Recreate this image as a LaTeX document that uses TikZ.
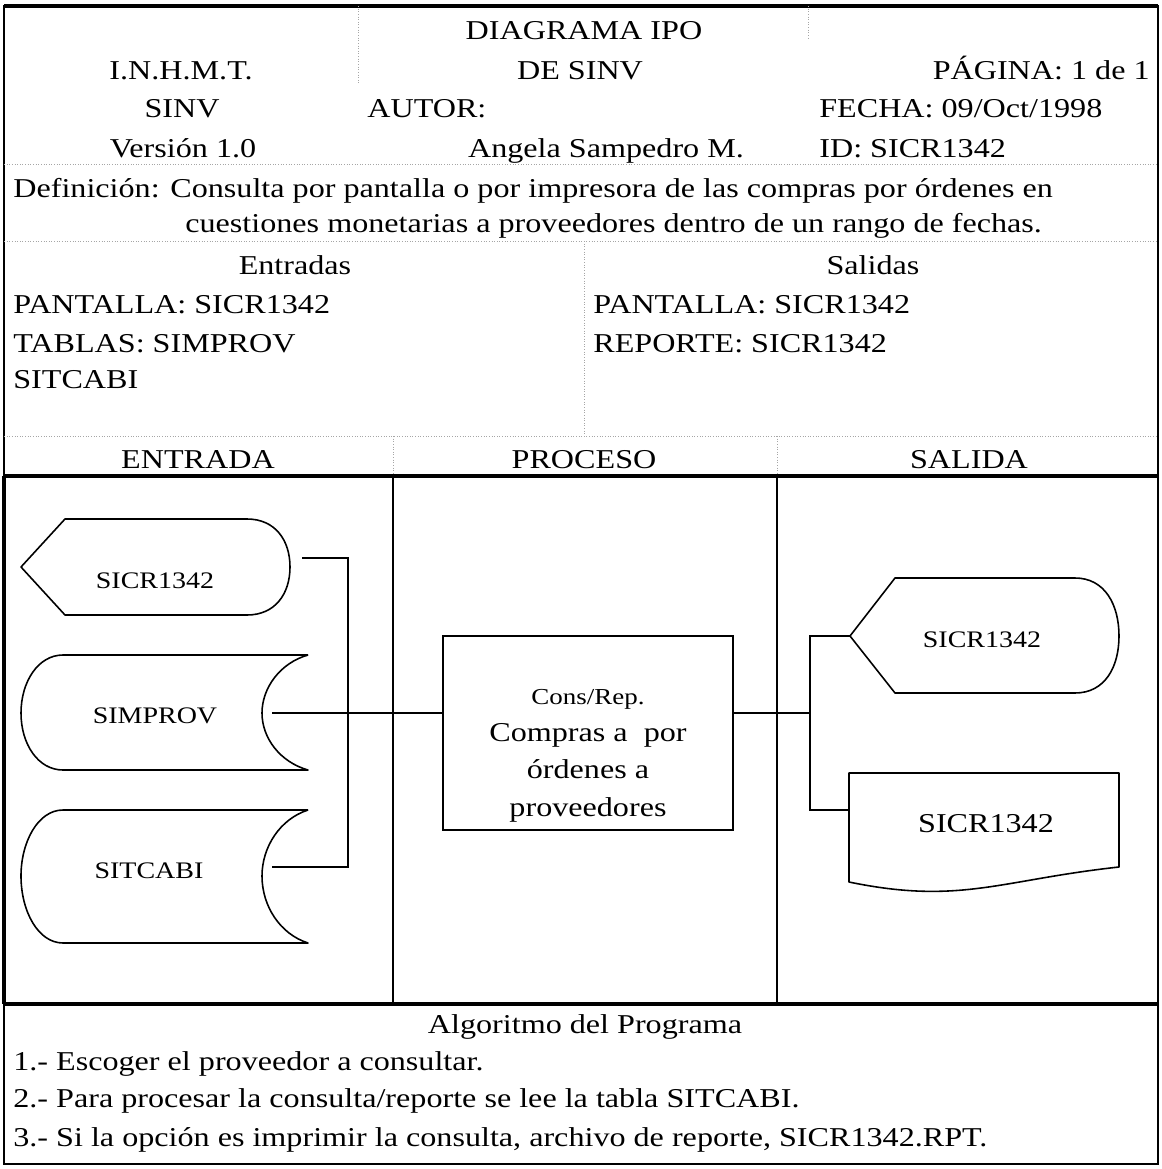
\documentclass[tikz,border=0pt]{standalone}
\usepackage{fontspec}
\setmainfont{Liberation Serif}[FakeStretch=1.18]
\usetikzlibrary{positioning, calc}

\newcommand{\ipofont}{\fontsize{15.5}{21.2}\selectfont}
\newcommand{\symfont}{\fontsize{13.5}{16}\selectfont}

\begin{document}
\begin{tikzpicture}[x=0.02cm, y=-0.02cm,
    frame/.style={line width=1.2pt},
    rule/.style={line width=1.8pt},
    lane/.style={line width=0.7pt},
    grid/.style={black!35, densely dotted, line width=0.5pt},
    label/.style={inner sep=0pt, font=\ipofont},
    symtext/.style={inner sep=0pt, font=\symfont},
    symbol/.style={line width=0.9pt, line join=round},
    link/.style={line width=0.9pt},
    process/.style={rectangle, draw, line width=0.9pt, minimum width=5.8cm,
                    minimum height=3.88cm, inner sep=0pt}]

  \useasboundingbox (0,0) rectangle (1162,1169);

  % frame and table rules
  \draw[frame] (4,6) rectangle (1158,1164);
  \draw[rule] (4,6) -- (1158,6);
  \draw[rule] (4,476) -- (1158,476);
  \draw[rule] (4,1004) -- (1158,1004);
  \draw[rule] (4,476) -- (4,1004);
  \draw[grid] (4,164) -- (1158,164);
  \draw[grid] (4,241) -- (1158,241);
  \draw[grid] (4,436) -- (1158,436);
  \draw[grid] (358,6) -- (358,85);
  \draw[grid] (808,6) -- (808,40);
  \draw[grid] (584,241) -- (584,436);
  \draw[grid] (393,436) -- (393,476);
  \draw[grid] (777,436) -- (777,476);
  \draw[lane] (393,476) -- (393,1004);
  \draw[lane] (777,476) -- (777,1004);

  % header
  \node[label, anchor=base] (titulo) at (584,40) {DIAGRAMA IPO};
  \node[label, anchor=base] (inst) at (181,80) {I.N.H.M.T.};
  \node[label, anchor=base] (subtitulo) at (580,80) {DE SINV};
  \node[label, anchor=base east] (pagina) at (1150,80) {PÁGINA: 1 de 1};
  \node[label, anchor=base] (sistema) at (182,118) {SINV};
  \node[label, anchor=base west] (autor) at (367,118) {AUTOR:};
  \node[label, anchor=base west] (fecha) at (819,118) {FECHA: 09/Oct/1998};
  \node[label, anchor=base] (version) at (183,158) {Versión 1.0};
  \node[label, anchor=base] (nombre) at (606,158) {Angela Sampedro M.};
  \node[label, anchor=base west] (ident) at (819,158) {ID: SICR1342};

  % definicion
  \node[label, anchor=base west] (defin1) at (13,197)
    {Definición: Consulta por pantalla o por impresora de las compras por órdenes en};
  \node[label, anchor=base west] (defin2) at (185,233)
    {cuestiones monetarias a proveedores dentro de un rango de fechas.};

  % entradas / salidas
  \node[label, anchor=base] (entradas) at (295,275) {Entradas};
  \node[label, anchor=base] (salidas) at (873,275) {Salidas};
  \node[label, anchor=base west] (ent1) at (13,313) {PANTALLA: SICR1342};
  \node[label, anchor=base west] (ent2) at (13,352) {TABLAS: SIMPROV};
  \node[label, anchor=base west] (ent3) at (13,388) {SITCABI};
  \node[label, anchor=base west] (sal1) at (593,313) {PANTALLA: SICR1342};
  \node[label, anchor=base west] (sal2) at (593,352) {REPORTE: SICR1342};

  % column heads
  \node[label, anchor=base] (colent) at (198,468) {ENTRADA};
  \node[label, anchor=base] (colproc) at (584,468) {PROCESO};
  \node[label, anchor=base] (colsal) at (969,468) {SALIDA};

  % entrada: pantalla
  \draw[symbol] (21,567) -- (65,519) -- (247,519)
    .. controls (275,519) and (290,540) .. (290,567)
    .. controls (290,594) and (275,615) .. (247,615) -- (65,615) -- cycle;
  \node[symtext, anchor=base] (pantin) at (155,588) {SICR1342};
  \coordinate (pantin-out) at (302,558);

  % entrada: tabla SIMPROV
  \draw[symbol] (308,655) -- (63,655)
    .. controls (38,655) and (21,682) .. (21,713)
    .. controls (21,744) and (38,770) .. (63,770) -- (308,770)
    .. controls (280,762) and (262,738) .. (262,713)
    .. controls (262,688) and (280,663) .. (308,655);
  \node[symtext, anchor=base] (simprov) at (155,723) {SIMPROV};
  \coordinate (simprov-out) at (272,713);

  % entrada: tabla SITCABI
  \draw[symbol] (308,810) -- (63,810)
    .. controls (38,810) and (21,842) .. (21,876)
    .. controls (21,911) and (38,943) .. (63,943) -- (308,943)
    .. controls (280,934) and (262,906) .. (262,876)
    .. controls (262,847) and (280,819) .. (308,810);
  \node[symtext, anchor=base] (sitcabi) at (149,878) {SITCABI};
  \coordinate (sitcabi-out) at (272,867);

  % proceso
  \node[process] (proc) at (588,733) {};
  \node[label, align=center, anchor=north] (proctexto) at (588,689)
    {{\fontsize{13}{21.2}\selectfont Cons/Rep.}\\
     Compras a\ \ por\\ órdenes a\\ proveedores};

  % salida: pantalla
  \draw[symbol] (850,636) -- (895,578) -- (1075,578)
    .. controls (1105,578) and (1119,605) .. (1119,636)
    .. controls (1119,667) and (1105,693) .. (1075,693) -- (895,693) -- cycle;
  \node[symtext, anchor=base] (pantout) at (982,647) {SICR1342};
  \coordinate (pantout-in) at (850,636);

  % salida: reporte
  \draw[symbol] (849,773) -- (1119,773) -- (1119,867)
    .. controls (1000,880) and (960,905) .. (849,882) -- cycle;
  \node[label, anchor=base] (reporte) at (986,832) {SICR1342};
  \coordinate (reporte-in) at (849,810);

  % connectors
  \draw[link] (pantin-out) -- ++(46,0) coordinate (busin) |- (sitcabi-out);
  \draw[link] (simprov-out) -- (simprov-out -| proc.west);
  \draw[link] (simprov-out -| proc.east) -- ++(76,0) coordinate (busout);
  \draw[link] (busout) |- (pantout-in);
  \draw[link] (busout) |- (reporte-in);

  % algoritmo
  \node[label, anchor=base] (algoritmo) at (585,1033) {Algoritmo del Programa};
  \node[label, anchor=base west] (paso1) at (13,1070) {1.- Escoger el proveedor a consultar.};
  \node[label, anchor=base west] (paso2) at (13,1107)
    {2.- Para procesar la consulta/reporte se lee la tabla SITCABI.};
  \node[label, anchor=base west] (paso3) at (13,1146)
    {3.- Si la opción es imprimir la consulta, archivo de reporte, SICR1342.RPT.};
\end{tikzpicture}
\end{document}
